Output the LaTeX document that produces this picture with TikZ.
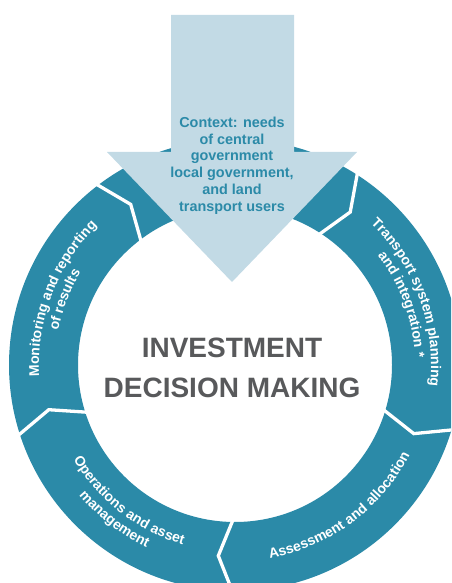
\documentclass[tikz,border=0pt]{standalone}
\usepackage{fontspec}
\setmainfont{Liberation Sans}
\usetikzlibrary{decorations.text}
\definecolor{ringc}{HTML}{2B8AA8}
\definecolor{arrowc}{HTML}{C2DAE5}
\definecolor{ctxtc}{HTML}{2B8AA8}
\definecolor{dgray}{HTML}{58595B}
\begin{document}
\begin{tikzpicture}[x=1pt,y=1pt,
  sepline/.style={white, line width=3.3pt, line join=miter, miter limit=10},
  arctext/.style={decorate, decoration={text along path, text align=center, text={|\fontsize{14}{16}\selectfont\bfseries\color{white}|#1}}}
]
\clip (0,0) rectangle (451,583);
\coordinate (O) at (235,218);
% ring
\fill[ringc, even odd rule] (O) circle[radius=226] (O) circle[radius=157];
% separators (chevrons pointing clockwise)
\foreach \a in {58,-16,-90,-161.5,-232}{
  \draw[sepline] ([shift={(\a:150)}]O) -- ([shift={({\a-5}:191.5)}]O) -- ([shift={(\a:233)}]O);
}
% context arrow
\fill[arrowc] (171,568) -- (294,568) -- (294,431) -- (357,431) -- (232,301) -- (107,431) -- (171,431) -- cycle;
\node[text=ctxtc, font=\fontsize{14.4}{16.9}\selectfont\bfseries, align=center, anchor=base] (ctx) at (232,371.3)
  {Context: needs\\of central\\government\\local government,\\and land\\transport users};
% centre
\node[text=dgray, font=\fontsize{28}{40}\selectfont\bfseries, align=center, anchor=base] (idm) at (232,185)
  {INVESTMENT\\DECISION MAKING};
% ring texts
\path[arctext={Transport system planning}] ([shift={(60:196)}]O) arc[start angle=60, end angle=-20, radius=196];
\path[arctext={and integration *}] ([shift={(60:180)}]O) arc[start angle=60, end angle=-20, radius=180];
\path[arctext={Assessment and allocation}] ([shift={(-98.5:196.5)}]O) arc[start angle=-98.5, end angle=-8.5, radius=196.5];
\path[arctext={Operations and asset}] ([shift={(187:187)}]O) arc[start angle=187, end angle=277, radius=187];
\path[arctext={management}] ([shift={(187:203)}]O) arc[start angle=187, end angle=277, radius=203];
\path[arctext={Monitoring and reporting}] ([shift={(199:196)}]O) arc[start angle=199, end angle=119, radius=196];
\path[arctext={of results}] ([shift={(199:180)}]O) arc[start angle=199, end angle=119, radius=180];
\end{tikzpicture}
\end{document}
